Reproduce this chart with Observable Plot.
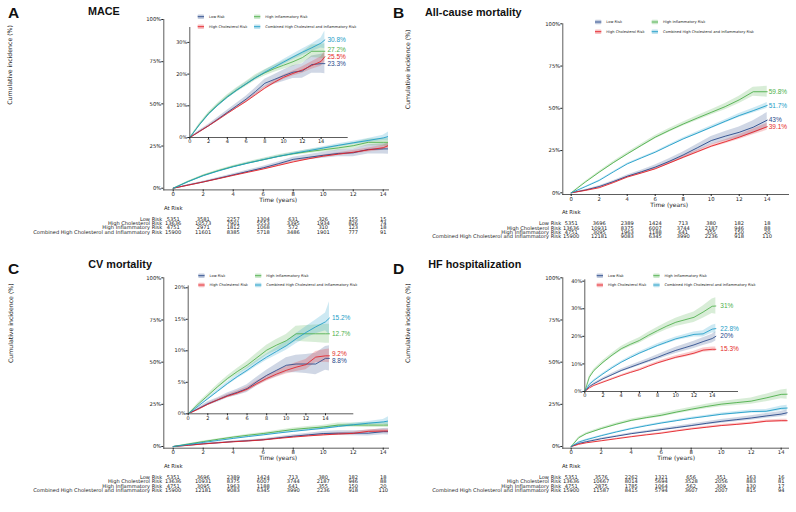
<!DOCTYPE html>
<html><head><meta charset="utf-8">
<script src="https://cdn.jsdelivr.net/npm/d3@7"></script>
<script src="https://cdn.jsdelivr.net/npm/@observablehq/plot@0.6"></script>
<style>
body{margin:0;background:#fff;}
#root{position:relative;width:796px;height:512px;overflow:hidden;background:#fff;}
#root > svg{position:absolute;margin:0;}
</style></head><body><div id="root"></div>
<script>
// ---------- shared ----------
const groups = ["Low Risk","High Cholesterol Risk","High Inflammatory Risk","Combined High Cholesterol and Inflammatory Risk"];
const colors = ["#27488a","#e41f26","#4daf4a","#1c9cc7"];
const riskTimes = [0,2,4,6,8,10,12,14];
const yTitle = "Cumulative incidence (%)";
const xTitle = "Time (years)";

// ---------- Panel A: MACE ----------
const timesA = [0,1,2,3,4,5,6,7,8,9,10,11,12,13,14,14.4];
const lowA  = [0,1.9,3.7,5.8,7.9,10.0,12.1,14.5,17.1,18.3,19.5,20.6,21.0,23.0,23.3,23.3];
const cholA = [0,1.8,3.7,5.6,7.6,9.5,11.4,13.5,15.6,17.4,19.0,20.2,21.3,22.7,24.0,25.5];
const inflA = [0,4.0,7.6,10.4,12.9,15.0,16.9,18.9,20.4,21.7,22.8,23.9,25.2,27.2,27.2,27.2];
const combA = [0,3.9,7.4,10.2,12.7,14.9,16.9,18.8,20.6,22.2,23.8,25.4,26.9,28.3,29.8,30.8];
const lowA_ci  = [0,0.3,0.5,0.6,0.7,0.8,0.9,1.1,1.3,1.5,1.8,2.0,2.3,2.7,3.0,3.2];
const cholA_ci = [0,0.15,0.2,0.25,0.3,0.35,0.4,0.45,0.5,0.6,0.7,0.8,1.0,1.2,1.5,1.7];
const inflA_ci = [0,0.3,0.4,0.5,0.6,0.7,0.8,0.9,1.0,1.1,1.3,1.5,1.8,2.0,2.2,2.4];
const combA_ci = [0,0.2,0.3,0.35,0.4,0.45,0.5,0.55,0.6,0.7,0.8,0.9,1.0,1.2,1.6,2.8];
const riskA_low  = [5351,3581,2257,1304,631,326,155,15];
const riskA_chol = [13636,10573,7901,5553,3395,1934,826,74];
const riskA_infl = [4751,2971,1812,1068,572,310,123,18];
const riskA_comb = [15900,11601,8385,5718,3486,1901,777,91];

// ---------- Panel B: All-cause mortality ----------
const timesB = [0,1,2,3,4,5,6,7,8,9,10,11,12,13,14];
const lowB  = [0,1.6,3.7,6.6,9.8,12.4,15.2,18.6,22.4,26.6,30.9,33.5,35.8,38.8,43];
const cholB = [0,1.4,3.0,6.0,9.3,11.7,14.2,17.6,21.0,24.3,27.6,30.2,32.9,36.0,39.1];
const inflB = [0,6.3,12.2,17.8,23.0,28.0,32.9,36.9,40.7,44.2,47.6,51.0,55.0,59.8,59.8];
const combB = [0,3.6,7.3,12.3,17.1,20.6,24.0,28.0,31.9,35.3,38.8,42.3,45.7,48.6,51.7];
const lowB_ci  = [0,0.3,0.5,0.6,0.8,1.0,1.2,1.5,1.8,2.1,2.4,2.8,3.2,3.8,4.5];
const cholB_ci = [0,0.2,0.3,0.35,0.4,0.5,0.6,0.7,0.8,0.9,1.0,1.2,1.4,1.7,2.1];
const inflB_ci = [0,0.4,0.6,0.7,0.8,0.9,1.0,1.1,1.2,1.4,1.6,1.9,2.2,2.7,3.2];
const combB_ci = [0,0.2,0.3,0.35,0.4,0.45,0.5,0.6,0.7,0.8,0.9,1.0,1.2,1.4,1.7];
const riskB_low  = [5351,3696,2389,1424,713,380,182,18];
const riskB_chol = [13636,10931,8375,6007,3744,2187,946,88];
const riskB_infl = [4751,3095,1963,1188,641,355,150,20];
const riskB_comb = [15900,12181,9083,6345,3990,2236,918,110];

// ---------- Panel C: CV mortality ----------
const timesC = [0,1,2,3,4,5,6,7,8,9,10,11,12,13,14,14.4];
const lowC  = [0,0.8,1.6,2.2,2.9,3.4,4.0,5.1,6.1,6.9,7.7,7.9,7.9,7.9,8.8,8.8];
const cholC = [0,0.7,1.5,2.2,2.8,3.3,3.9,4.8,5.6,6.3,6.9,7.4,7.8,9.0,9.2,9.2];
const inflC = [0,1.5,2.9,4.3,5.6,6.7,7.7,8.9,10.1,10.9,11.6,12.7,12.7,12.7,12.7,12.7];
const combC = [0,1.2,2.4,3.6,4.8,5.9,6.9,8.0,9.0,9.9,10.8,11.9,12.9,13.8,14.6,15.2];
const lowC_ci  = [0,0.2,0.3,0.35,0.4,0.5,0.6,0.7,0.8,1.0,1.2,1.4,1.5,1.7,1.9,2.0];
const cholC_ci = [0,0.1,0.15,0.2,0.25,0.3,0.35,0.4,0.45,0.5,0.6,0.7,0.8,0.9,1.0,1.1];
const inflC_ci = [0,0.2,0.3,0.35,0.4,0.5,0.6,0.7,0.8,0.9,1.0,1.2,1.3,1.4,1.5,1.5];
const combC_ci = [0,0.15,0.2,0.25,0.3,0.35,0.4,0.45,0.5,0.6,0.7,0.8,0.9,1.1,1.4,2.6];
const riskC_low  = [5351,3696,2389,1424,713,380,182,18];
const riskC_chol = [13636,10931,8375,6007,3744,2187,946,88];
const riskC_infl = [4751,3095,1963,1188,641,355,150,20];
const riskC_comb = [15900,12181,9083,6345,3990,2236,918,110];

// ---------- Panel D: HF hospitalization ----------
const timesD = [0,0.5,1,2,3,4,5,6,7,8,9,10,11,12,13,14,14.4];
const lowD  = [0,1.8,2.8,4.6,6.1,7.6,8.8,10.0,11.2,12.4,13.7,14.9,15.9,16.9,18.1,19.2,20];
const cholD = [0,1.3,2.2,3.4,4.6,5.8,6.9,7.9,9.2,10.4,11.4,12.4,13.1,13.9,15.0,15.3,15.3];
const inflD = [0,5.2,7.6,10.6,13.2,15.5,17.1,18.5,20.4,22.1,23.7,25.1,26.0,26.9,28.8,30.9,31];
const combD = [0,2.6,4.0,6.4,8.6,10.6,12.3,13.9,15.3,16.7,17.9,19.1,19.9,20.7,20.9,22.6,22.8];
const lowD_ci  = [0,0.2,0.3,0.4,0.5,0.55,0.6,0.7,0.8,0.9,1.0,1.1,1.2,1.3,1.4,1.6,1.7];
const cholD_ci = [0,0.1,0.15,0.2,0.25,0.3,0.35,0.4,0.45,0.5,0.55,0.6,0.65,0.7,0.75,0.8,0.8];
const inflD_ci = [0,0.4,0.5,0.6,0.7,0.8,0.9,1.0,1.1,1.2,1.3,1.5,1.7,1.9,2.2,2.6,3.0];
const combD_ci = [0,0.2,0.25,0.3,0.35,0.4,0.45,0.5,0.55,0.6,0.65,0.7,0.8,0.9,1.1,1.4,1.6];
const riskD_low  = [5351,3576,2262,1321,656,351,163,16];
const riskD_chol = [13636,10667,8014,5694,3528,2056,883,81];
const riskD_infl = [4751,2875,1785,1064,562,309,130,17];
const riskD_comb = [15900,11587,8415,5794,3607,2007,815,94];

// ---------- helpers ----------
const root = document.getElementById("root");
const SMALL = "DejaVu Sans, sans-serif";
const LAB = "Liberation Sans, Arial, sans-serif";
const colorScale = {domain: groups, range: colors};

function buildRows(times, series, cis) {
  const rows = [];
  series.forEach((vals, gi) => vals.forEach((v, i) => {
    const h = cis[gi][i];
    rows.push({t: times[i], v, lo: Math.max(0, v - h), hi: v + h, g: groups[gi]});
  }));
  return rows;
}
function repel(vals, gap) {
  const idx = vals.map((v, i) => i).sort((a, b) => vals[b] - vals[a]);
  const p = vals.slice();
  for (let it = 0; it < 60; it++) {
    for (let k = 1; k < idx.length; k++) {
      const a = idx[k - 1], b = idx[k];
      const d = p[a] - p[b];
      if (d < gap) { const s = (gap - d) / 2; p[a] += s; p[b] -= s; }
    }
  }
  return p;
}
function endMarks(times, series, yDomain, frameH, dx) {
  const last = times.length - 1;
  const vals = series.map(s => s[last]);
  const pxPer = frameH / (yDomain[1] - yDomain[0]);
  const pos = repel(vals, 7 / pxPer);
  const ends = series.map((s, gi) => ({t: times[last], p: pos[gi], g: groups[gi], label: `${s[last]}%`}));
  return Plot.text(ends, {x: "t", y: "p", text: "label", fill: "g", textAnchor: "start", dx,
    fontSize: 6.5, fontFamily: LAB});
}
function place(svg, left, top) {
  svg.style.left = left + "px";
  svg.style.top = top + "px";
  root.appendChild(svg);
}

function mainPanel(c) {
  const rows = buildRows(c.times, c.series, c.cis);
  const yDomain = [-1, 100];
  const marks = [
    Plot.areaY(rows, {x: "t", y1: "lo", y2: "hi", fill: "g", fillOpacity: 0.22, clip: true}),
    Plot.lineY(rows, {x: "t", y: "v", stroke: "g", strokeWidth: 0.9, clip: true}),
    Plot.frame({anchor: "left", stroke: "#333", strokeWidth: 0.8}),
    Plot.frame({anchor: "bottom", stroke: "#333", strokeWidth: 0.8}),
    Plot.axisY({ticks: [0, 25, 50, 75, 100], tickFormat: d => d + "%", tickSize: 2, tickPadding: 0.5,
      fontSize: 5.3, label: null}),
    Plot.axisX({ticks: riskTimes, tickSize: 2, tickPadding: 0.3, fontSize: 5.3, label: null}),
    Plot.text([yTitle], {frameAnchor: "left", dx: c.yTitleDx, rotate: -90, fontSize: 6.2}),
    Plot.text([xTitle], {x: () => d3.mean(d3.extent(riskTimes)), frameAnchor: "bottom", dy: 12, fontSize: 6}),
    Plot.text(["At Risk"], {x: () => riskTimes[0], frameAnchor: "bottom", dy: 19.9, fontSize: 5.4, ariaLabel: "risk-table"})
  ];
  c.risk.forEach((r, i) => {
    const dy = 30.8 + i * 4.35;
    marks.push(Plot.text(riskTimes, {x: d => d, text: (d, j) => String(r[j]), frameAnchor: "bottom", dy,
      fontSize: 5.1, ariaLabel: "risk-table"}));
    marks.push(Plot.text([groups[i]], {frameAnchor: "bottom-left", dx: -1.6, dy, textAnchor: "end",
      fontSize: 5.1, ariaLabel: "risk-table"}));
  });
  if (c.ends) marks.push(endMarks(c.times, c.series, yDomain, c.height - c.mT - c.mB, c.endDx));
  const svg = Plot.plot({
    width: c.width, height: c.height,
    marginLeft: c.mL, marginRight: c.mR, marginTop: c.mT, marginBottom: c.mB,
    x: {domain: c.xDomain},
    y: {domain: yDomain},
    color: colorScale,
    style: {fontFamily: SMALL, fontSize: "5.3px", color: "#222", background: "transparent", overflow: "visible"},
    marks
  });
  d3.select(svg).selectAll('g[aria-label="risk-table"]').attr("letter-spacing", "0.4px");
  place(svg, c.left, c.top);
}

function insetPanel(c) {
  const rows = buildRows(c.times, c.series, c.cis);
  const marks = [
    Plot.areaY(rows, {x: "t", y1: "lo", y2: "hi", fill: "g", fillOpacity: 0.22, clip: true}),
    Plot.lineY(rows, {x: "t", y: "v", stroke: "g", strokeWidth: 0.85, clip: true}),
    Plot.frame({anchor: "left", stroke: "#333", strokeWidth: 0.8}),
    Plot.frame({anchor: "bottom", stroke: "#333", strokeWidth: 0.8}),
    Plot.axisY({ticks: c.yTicks, tickFormat: d => d + "%", tickSize: 2, tickPadding: 0.5, fontSize: 5, label: null}),
    Plot.axisX({ticks: riskTimes, tickSize: 2, tickPadding: 0.3, fontSize: 5, label: null}),
    endMarks(c.times, c.series, c.yDomain, c.height - c.mT - c.mB, c.endDx)
  ];
  const svg = Plot.plot({
    width: c.width, height: c.height,
    marginLeft: c.mL, marginRight: c.mR, marginTop: c.mT, marginBottom: c.mB,
    x: {domain: [0, 16.78]},
    y: {domain: c.yDomain},
    color: colorScale,
    style: {fontFamily: SMALL, fontSize: "5px", color: "#222", background: "transparent", overflow: "visible"},
    marks
  });
  place(svg, c.left, c.top);
}

// ---------- panels ----------
const sA = [lowA, cholA, inflA, combA], cA = [lowA_ci, cholA_ci, inflA_ci, combA_ci];
const sB = [lowB, cholB, inflB, combB], cB = [lowB_ci, cholB_ci, inflB_ci, combB_ci];
const sC = [lowC, cholC, inflC, combC], cC = [lowC_ci, cholC_ci, inflC_ci, combC_ci];
const sD = [lowD, cholD, inflD, combD], cD = [lowD_ci, cholD_ci, inflD_ci, combD_ci];

mainPanel({left: 0, top: 0, width: 400, height: 240, mL: 163.3, mR: 12, mT: 19, mB: 50.6,
  xDomain: [-0.627, 14.35], times: timesA, series: sA, cis: cA, yTitleDx: -153.3,
  risk: [riskA_low, riskA_chol, riskA_infl, riskA_comb]});
mainPanel({left: 400, top: 0, width: 396, height: 245, mL: 162.3, mR: 8, mT: 23.3, mB: 51,
  xDomain: [-0.6, 15.52], times: timesB, series: sB, cis: cB, yTitleDx: -155,
  risk: [riskB_low, riskB_chol, riskB_infl, riskB_comb], ends: true, endDx: 1.5});
mainPanel({left: 0, top: 256, width: 400, height: 256, mL: 163.3, mR: 12, mT: 21.3, mB: 64.3,
  xDomain: [-0.627, 14.35], times: timesC, series: sC, cis: cC, yTitleDx: -152.3,
  risk: [riskC_low, riskC_chol, riskC_infl, riskC_comb]});
mainPanel({left: 400, top: 256, width: 396, height: 256, mL: 162.3, mR: 8, mT: 21.3, mB: 64.3,
  xDomain: [-0.56, 14.49], times: timesD, series: sD, cis: cD, yTitleDx: -155,
  risk: [riskD_low, riskD_chol, riskD_infl, riskD_comb]});

insetPanel({left: 170, top: 22, width: 185, height: 125, mL: 19.3, mR: 8.3, mT: 5, mB: 10,
  yDomain: [0, 34.7], yTicks: [0, 10, 20, 30], times: timesA, series: sA, cis: cA, endDx: 2.5});
insetPanel({left: 165, top: 280, width: 192, height: 143, mL: 22.7, mR: 4.7, mT: 5.4, mB: 9.7,
  yDomain: [0, 20.3], yTicks: [0, 5, 10, 15, 20], times: timesC, series: sC, cis: cC, endDx: 2.5});
insetPanel({left: 562, top: 274, width: 180, height: 127, mL: 22.3, mR: 5, mT: 5.3, mB: 10,
  yDomain: [0, 40.5], yTicks: [0, 10, 20, 30, 40], times: timesD, series: sD, cis: cD, endDx: 4.5});

// ---------- titles, panel letters, legends ----------
const ov = d3.select(root).append("svg")
  .attr("width", 796).attr("height", 512)
  .style("left", "0px").style("top", "0px").style("pointer-events", "none");
const letters = [["A", 8, 17.5], ["B", 393, 17.5], ["C", 8, 273.5], ["D", 393, 273.5]];
letters.forEach(([t, x, y]) => ov.append("text").attr("x", x).attr("y", y).text(t)
  .attr("font-family", LAB).attr("font-weight", "bold").attr("font-size", 15.5).attr("fill", "#111"));
const titles = [["MACE", 88, 15.3], ["All-cause mortality", 425, 16], ["CV mortality", 88.3, 267.5], ["HF hospitalization", 428.3, 268]];
titles.forEach(([t, x, y]) => ov.append("text").attr("x", x).attr("y", y).text(t)
  .attr("font-family", LAB).attr("font-weight", "bold").attr("font-size", 10.8).attr("fill", "#111"));

const legends = [
  {x1: 197.7, x2: 254, y1: 16.7, y2: 26.7},
  {x1: 595, x2: 651.7, y1: 22, y2: 31.7},
  {x1: 198.3, x2: 255, y1: 275.7, y2: 285},
  {x1: 596.7, x2: 653.3, y1: 275.7, y2: 285}
];
legends.forEach(L => {
  groups.forEach((g, i) => {
    const x = i < 2 ? L.x1 : L.x2;
    const y = i % 2 === 0 ? L.y1 : L.y2;
    ov.append("rect").attr("x", x).attr("y", y - 2.3).attr("width", 6.3).attr("height", 4.6)
      .attr("rx", 0.8).attr("fill", colors[i]).attr("fill-opacity", 0.28);
    ov.append("line").attr("x1", x).attr("x2", x + 6.3).attr("y1", y).attr("y2", y)
      .attr("stroke", colors[i]).attr("stroke-width", 0.9);
    ov.append("text").attr("x", x + 11.3).attr("y", y).attr("dy", "0.35em").text(g)
      .attr("font-family", SMALL).attr("font-size", 3.6).attr("fill", "#222");
  });
});
</script>
</body></html>
